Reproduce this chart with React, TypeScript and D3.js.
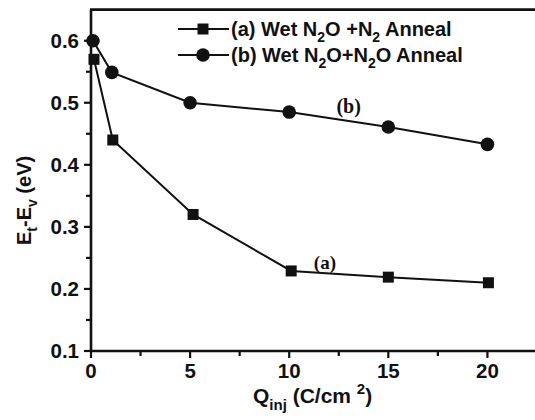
import React, { useEffect, useRef } from 'react';
import * as d3 from 'd3';

// data
const xA = [0.15, 1.1, 5.15, 10.1, 15.0, 20.05];
const yA = [0.57, 0.44, 0.32, 0.229, 0.219, 0.21];
const xB = [0.1, 1.05, 5.0, 10.0, 15.0, 20.0];
const yB = [0.6, 0.549, 0.5, 0.485, 0.461, 0.433];
const xTicks = [0, 5, 10, 15, 20];
const yTicks = [0.1, 0.2, 0.3, 0.4, 0.5, 0.6];

const W = 535, H = 420;
const font = '"Liberation Sans", Arial, sans-serif';
const serif = '"Liberation Serif", "Times New Roman", serif';

export default function App() {
  const ref = useRef<SVGSVGElement>(null);

  useEffect(() => {
    const svg = d3.select(ref.current);
    svg.selectAll('*').remove();

    const x = d3.scaleLinear().domain([0, 22.4]).range([91, 535]);
    const y = d3.scaleLinear().domain([0.1, 0.6]).range([351, 40.7]);
    const yTop = y(0.65);

    // frame: left, bottom, top
    svg.append('line').attr('x1', 91).attr('x2', 91).attr('y1', yTop).attr('y2', 352)
      .attr('stroke', '#111').attr('stroke-width', 2.6);
    svg.append('line').attr('x1', 90).attr('x2', W).attr('y1', 351).attr('y2', 351)
      .attr('stroke', '#111').attr('stroke-width', 2.6);
    svg.append('line').attr('x1', 90).attr('x2', W).attr('y1', yTop).attr('y2', yTop)
      .attr('stroke', '#111').attr('stroke-width', 2.6);

    // x ticks
    const xMinor = d3.range(2.5, 22.4, 5);
    svg.selectAll('.xt').data(xTicks).join('line')
      .attr('x1', d => x(d)).attr('x2', d => x(d)).attr('y1', 351).attr('y2', 358)
      .attr('stroke', '#111').attr('stroke-width', 2.2);
    svg.selectAll('.xm').data(xMinor).join('line')
      .attr('x1', d => x(d)).attr('x2', d => x(d)).attr('y1', 351).attr('y2', 356)
      .attr('stroke', '#111').attr('stroke-width', 2.2);
    svg.selectAll('.xl').data(xTicks).join('text')
      .attr('x', d => x(d)).attr('y', 378)
      .attr('text-anchor', 'middle')
      .attr('font-family', font).attr('font-weight', 'bold').attr('font-size', 20.5)
      .attr('fill', '#111')
      .text(d => d);

    // y ticks
    const yMinor = d3.range(0.15, 0.65, 0.1);
    svg.selectAll('.yt').data(yTicks).join('line')
      .attr('x1', 84).attr('x2', 91).attr('y1', d => y(d)).attr('y2', d => y(d))
      .attr('stroke', '#111').attr('stroke-width', 2.2);
    svg.selectAll('.ym').data(yMinor).join('line')
      .attr('x1', 86).attr('x2', 91).attr('y1', d => y(d)).attr('y2', d => y(d))
      .attr('stroke', '#111').attr('stroke-width', 2.2);
    svg.selectAll('.yl').data(yTicks).join('text')
      .attr('x', 79).attr('y', d => y(d) + 7)
      .attr('text-anchor', 'end')
      .attr('font-family', font).attr('font-weight', 'bold').attr('font-size', 20.5)
      .attr('fill', '#111')
      .text(d => d.toFixed(1));

    // axis titles
    const xt = svg.append('text').attr('x', 253).attr('y', 403)
      .attr('font-family', font).attr('font-weight', 'bold').attr('font-size', 21).attr('fill', '#111');
    xt.append('tspan').text('Q');
    xt.append('tspan').attr('font-size', 15).attr('dy', 7).text('inj');
    xt.append('tspan').attr('dy', -7).text(' (C/cm ');
    xt.append('tspan').attr('font-size', 15).attr('dy', -9).text('2');
    xt.append('tspan').attr('dy', 9).text(')');

    const yt = svg.append('text').attr('transform', 'translate(31,245) rotate(-90)')
      .attr('font-family', font).attr('font-weight', 'bold').attr('font-size', 20).attr('fill', '#111');
    yt.append('tspan').text('E');
    yt.append('tspan').attr('font-size', 14).attr('dy', 6).text('t');
    yt.append('tspan').attr('dy', -6).text('-E');
    yt.append('tspan').attr('font-size', 14).attr('dy', 6).text('v');
    yt.append('tspan').attr('dy', -6).text(' (eV)');

    const line = d3.line<[number, number]>().x(d => x(d[0])).y(d => y(d[1]));
    const ptsA = xA.map((v, i) => [v, yA[i]] as [number, number]);
    const ptsB = xB.map((v, i) => [v, yB[i]] as [number, number]);

    svg.append('path').attr('d', line(ptsA)).attr('fill', 'none').attr('stroke', '#111').attr('stroke-width', 2);
    svg.append('path').attr('d', line(ptsB)).attr('fill', 'none').attr('stroke', '#111').attr('stroke-width', 2);

    const sq = 11;
    svg.selectAll('.ma').data(ptsA).join('rect')
      .attr('x', d => x(d[0]) - sq / 2).attr('y', d => y(d[1]) - sq / 2)
      .attr('width', sq).attr('height', sq).attr('fill', '#111');
    svg.selectAll('.mb').data(ptsB).join('circle')
      .attr('cx', d => x(d[0])).attr('cy', d => y(d[1])).attr('r', 6.8).attr('fill', '#111');

    // legend
    const legend = [
      { y: 29, kind: 'sq', parts: [['(a) Wet N', 0], ['2', 1], ['O +N', 0], ['2', 1], [' Anneal', 0]] },
      { y: 55, kind: 'ci', parts: [['(b) Wet N', 0], ['2', 1], ['O+N', 0], ['2', 1], ['O Anneal', 0]] },
    ];
    legend.forEach(l => {
      svg.append('line').attr('x1', 178).attr('x2', 229).attr('y1', l.y).attr('y2', l.y)
        .attr('stroke', '#111').attr('stroke-width', 2);
      if (l.kind === 'sq') {
        svg.append('rect').attr('x', 203 - sq / 2).attr('y', l.y - sq / 2).attr('width', sq).attr('height', sq).attr('fill', '#111');
      } else {
        svg.append('circle').attr('cx', 203).attr('cy', l.y).attr('r', 6.8).attr('fill', '#111');
      }
      const t = svg.append('text').attr('x', 231).attr('y', l.y + 7)
        .attr('font-family', font).attr('font-weight', 'bold').attr('font-size', 20).attr('fill', '#111');
      let sub = false;
      (l.parts as [string, number][]).forEach(([s, isSub]) => {
        const ts = t.append('tspan').text(s);
        if (isSub && !sub) { ts.attr('font-size', 14).attr('dy', 6); sub = true; }
        else if (!isSub && sub) { ts.attr('dy', -6); sub = false; }
      });
    });

    // annotations
    svg.append('text').attr('x', x(13)).attr('y', 113).attr('text-anchor', 'middle')
      .attr('font-family', serif).attr('font-weight', 'bold')
      .attr('font-size', 20).attr('fill', '#111').text('(b)');
    svg.append('text').attr('x', x(11.8)).attr('y', 269).attr('text-anchor', 'middle')
      .attr('font-family', serif).attr('font-weight', 'bold')
      .attr('font-size', 19).attr('fill', '#111').text('(a)');
  }, []);

  return (
    <svg ref={ref} width={W} height={H}
      style={{ position: 'absolute', left: 0, top: 0, background: '#fff' }} />
  );
}
